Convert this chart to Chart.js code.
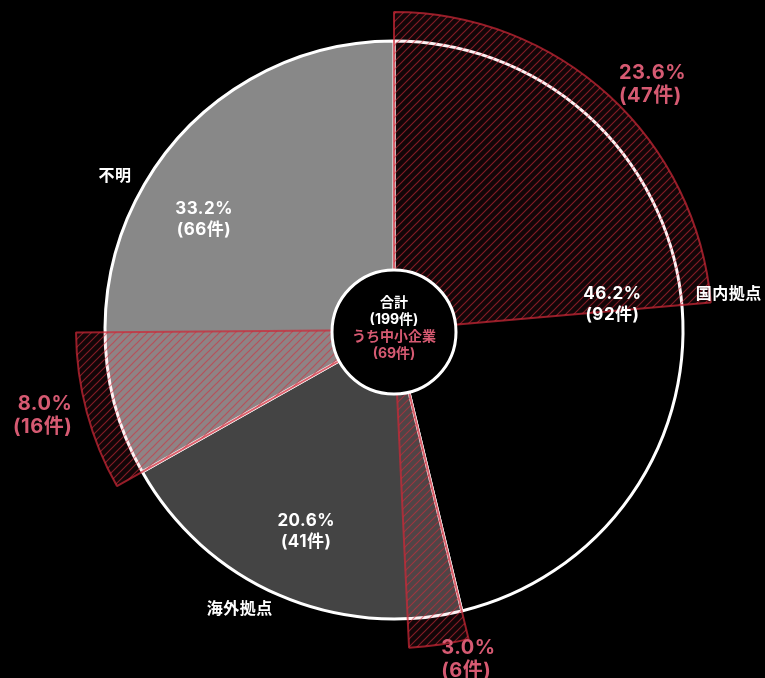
<!DOCTYPE html>
<html lang="ja">
<head>
<meta charset="utf-8">
<script src="https://cdn.jsdelivr.net/npm/chart.js@4"></script>
<style>
  html, body { margin: 0; padding: 0; background: #000; }
  .wrap { position: relative; width: 765px; height: 678px; }
  .wrap canvas { position: absolute; left: 0; top: 0; }
</style>
</head>
<body>
<div class="wrap">
  <canvas id="pie-chart" width="765" height="678"></canvas>
  <canvas id="sme-chart" width="765" height="678"></canvas>
</div>
<script>
const categories = ["国内拠点", "海外拠点", "不明"];
const totalCounts = [92, 41, 66];
const smeCounts = [47, 6, 16];
const sliceColors = ["#000000", "#444444", "#888888"];

const pieCanvas = document.getElementById("pie-chart");
const smeCanvas = document.getElementById("sme-chart");

const grandTotal = totalCounts.reduce((a, b) => a + b, 0);
const smeTotal = smeCounts.reduce((a, b) => a + b, 0);
const pct = (n) => ((n / grandTotal) * 100).toFixed(1) + "%";

const FONT = "Inter, 'Noto Sans CJK JP', sans-serif";
const PINK = "#d65a72";

// 斜線パターン
const makeHatch = () => {
  const size = 8;
  const c = document.createElement("canvas");
  c.width = size;
  c.height = size;
  const g = c.getContext("2d");
  g.fillStyle = "rgba(230, 80, 100, 0.08)";
  g.fillRect(0, 0, size, size);
  g.strokeStyle = "rgba(210, 45, 60, 0.58)";
  g.lineWidth = 1.2;
  g.beginPath();
  g.moveTo(0, size);
  g.lineTo(size, 0);
  g.moveTo(-1, 1);
  g.lineTo(1, -1);
  g.moveTo(size - 1, size + 1);
  g.lineTo(size + 1, size - 1);
  g.stroke();
  return g.createPattern(c, "repeat");
};
const hatch = makeHatch();

// 中小企業分とそれ以外を交互に並べる
const smeData = [];
const smeFill = [];
const smeBorder = [];
categories.forEach((_, i) => {
  smeData.push(smeCounts[i], totalCounts[i] - smeCounts[i]);
  smeFill.push(hatch, "rgba(0,0,0,0)");
  smeBorder.push("rgba(205, 40, 55, 0.72)", "rgba(0,0,0,0)");
});

const baseOptions = {
  responsive: false,
  animation: false,
  events: [],
  cutout: 0,
  layout: { padding: { left: 23, right: 0, top: 0, bottom: 18 } },
  plugins: { legend: { display: false }, tooltip: { enabled: false } },
};

const pieChart = new Chart(pieCanvas, {
  type: "doughnut",
  data: {
    labels: categories,
    datasets: [
      {
        data: totalCounts,
        backgroundColor: sliceColors,
        borderColor: "#ffffff",
        borderWidth: 3,
      },
    ],
  },
  options: { ...baseOptions, radius: 289 },
});

const drawBlock = (ctx, lines, x, y, align, size, lineH, color, spacing = 0.5) => {
  ctx.font = `bold ${size}px ${FONT}`;
  ctx.letterSpacing = `${spacing}px`;
  ctx.fillStyle = color;
  ctx.textAlign = align;
  ctx.textBaseline = "middle";
  const top = y - ((lines.length - 1) * lineH) / 2;
  lines.forEach((t, i) => ctx.fillText(t, x, top + i * lineH));
};

const midPoint = (arc, r) => {
  const a = (arc.startAngle + arc.endAngle) / 2;
  return { x: arc.x + Math.cos(a) * r, y: arc.y + Math.sin(a) * r, cos: Math.cos(a) };
};

const labelPlugin = {
  id: "labels",
  afterDraw(chart) {
    const ctx = chart.ctx;
    const pieArcs = pieChart.getDatasetMeta(0).data;
    const smeArcs = chart.getDatasetMeta(0).data;
    ctx.save();

    // 中央の円
    const cx = pieArcs[0].x;
    const cy = pieArcs[0].y;
    ctx.beginPath();
    ctx.arc(cx, cy + 2, 62, 0, Math.PI * 2);
    ctx.fillStyle = "#000";
    ctx.fill();
    ctx.lineWidth = 3;
    ctx.strokeStyle = "#ffffff";
    ctx.stroke();

    drawBlock(ctx, ["合計", `(${grandTotal}件)`], cx, cy - 19, "center", 14, 17, "#ffffff", 0);
    drawBlock(ctx, ["うち中小企業", `(${smeTotal}件)`], cx, cy + 15, "center", 14, 17, PINK, 0);

    // 構成比と区分名
    pieArcs.forEach((arc, i) => {
      const p = midPoint(arc, 220);
      drawBlock(ctx, [pct(totalCounts[i]), `(${totalCounts[i]}件)`], p.x, p.y, "center", 17, 21, "#ffffff");
      const q = midPoint(arc, 304);
      drawBlock(ctx, [categories[i]], q.x, q.y, q.cos > 0 ? "left" : "right", 16, 18, "#ffffff");
    });

    // 中小企業の割合
    smeCounts.forEach((n, i) => {
      const arc = smeArcs[i * 2];
      const p = midPoint(arc, 333);
      drawBlock(ctx, [pct(n), `(${n}件)`], p.x, p.y, p.cos > 0 ? "left" : "right", 20, 23, PINK);
    });

    ctx.restore();
  },
};

new Chart(smeCanvas, {
  type: "doughnut",
  data: {
    labels: smeData.map((_, i) => String(i)),
    datasets: [
      {
        data: smeData,
        backgroundColor: smeFill,
        borderColor: smeBorder,
        borderWidth: 2,
      },
    ],
  },
  options: { ...baseOptions, radius: 318 },
  plugins: [labelPlugin],
});
</script>
</body>
</html>
